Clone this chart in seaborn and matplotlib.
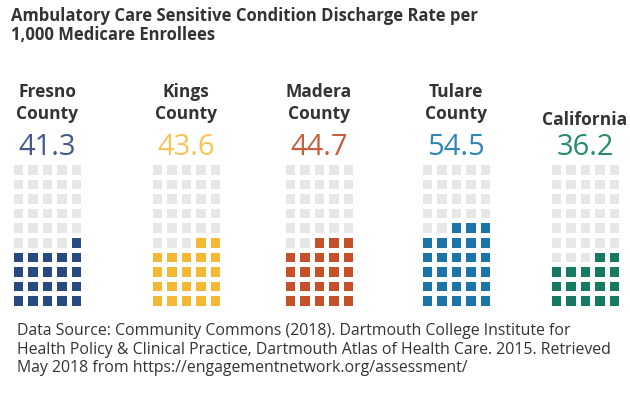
import numpy as np
import matplotlib
matplotlib.use("Agg")
import matplotlib.pyplot as plt
from matplotlib.colors import ListedColormap
import seaborn as sns

# Discharge rates per 1,000 Medicare enrollees
places = ["Fresno\nCounty", "Kings\nCounty", "Madera\nCounty", "Tulare\nCounty", "California"]
rates = [41.3, 43.6, 44.7, 54.5, 36.2]
# filled squares in each 5 x 10 waffle
filled_squares = [21, 22, 23, 28, 17]

square_colors = ["#284a80", "#f3b934", "#c4512a", "#1c74a9", "#157a61"]
value_colors = ["#44598c", "#f6c458", "#c75d3c", "#2e87b8", "#2a8a71"]
empty_color = "#e6e7e9"
text_color = "#333333"

title_lines = ["Ambulatory Care Sensitive Condition Discharge Rate per",
               "1,000 Medicare Enrollees"]
source_lines = ["Data Source: Community Commons (2018). Dartmouth College Institute for",
                "Health Policy & Clinical Practice, Dartmouth Atlas of Health Care. 2015. Retrieved",
                "May 2018 from https://engagementnetwork.org/assessment/"]

N_ROWS, N_COLS = 10, 5

sns.set_theme(style="white")
plt.rcParams["font.family"] = ["Open Sans", "DejaVu Sans"]

W, H = 630, 395
fig = plt.figure(figsize=(W / 100, H / 100), dpi=100)
fig.patch.set_facecolor("white")


def fx(x):
    return x / W


def fy(y):
    return 1 - y / H


# layout (pixels)
centers = [47, 186, 319, 456, 585]
pitch_x, pitch_y = 14.5, 14.6
grid_top = 162


def waffle(n):
    grid = np.zeros((N_ROWS, N_COLS))
    for k in range(n):
        grid[N_ROWS - 1 - k // N_COLS, N_COLS - 1 - k % N_COLS] = 1
    return grid


for place, rate, n, sq_col, val_col, cx in zip(places, rates, filled_squares,
                                                square_colors, value_colors, centers):
    w = N_COLS * pitch_x
    h = N_ROWS * pitch_y
    ax = fig.add_axes([fx(cx - w / 2), fy(grid_top + h), w / W, h / H])
    sns.heatmap(waffle(n), ax=ax, cmap=ListedColormap([empty_color, sq_col]),
                vmin=0, vmax=1, cbar=False, linewidths=2.5, linecolor="white",
                xticklabels=False, yticklabels=False)
    ax.set_axis_off()

    lines = place.split("\n")
    if len(lines) == 2:
        fig.text(fx(cx), fy(97), lines[0], ha="center", va="baseline",
                 fontsize=12.5, fontweight="bold", color=text_color)
        fig.text(fx(cx), fy(119), lines[1], ha="center", va="baseline",
                 fontsize=12.5, fontweight="bold", color=text_color)
    else:
        fig.text(fx(cx), fy(125), lines[0], ha="center", va="baseline",
                 fontsize=12.5, fontweight="bold", color=text_color)
    fig.text(fx(cx), fy(155), f"{rate:.1f}", ha="center", va="baseline",
             fontsize=21, color=val_col)

for i, line in enumerate(title_lines):
    fig.text(fx(11), fy(21 + i * 19.5), line, ha="left", va="baseline",
             fontsize=12, fontweight="bold", color=text_color)

for i, line in enumerate(source_lines):
    fig.text(fx(17), fy(335 + i * 18.5), line, ha="left", va="baseline",
             fontsize=11.4, color=text_color)

fig.savefig("out.png", dpi=100, facecolor="white")
